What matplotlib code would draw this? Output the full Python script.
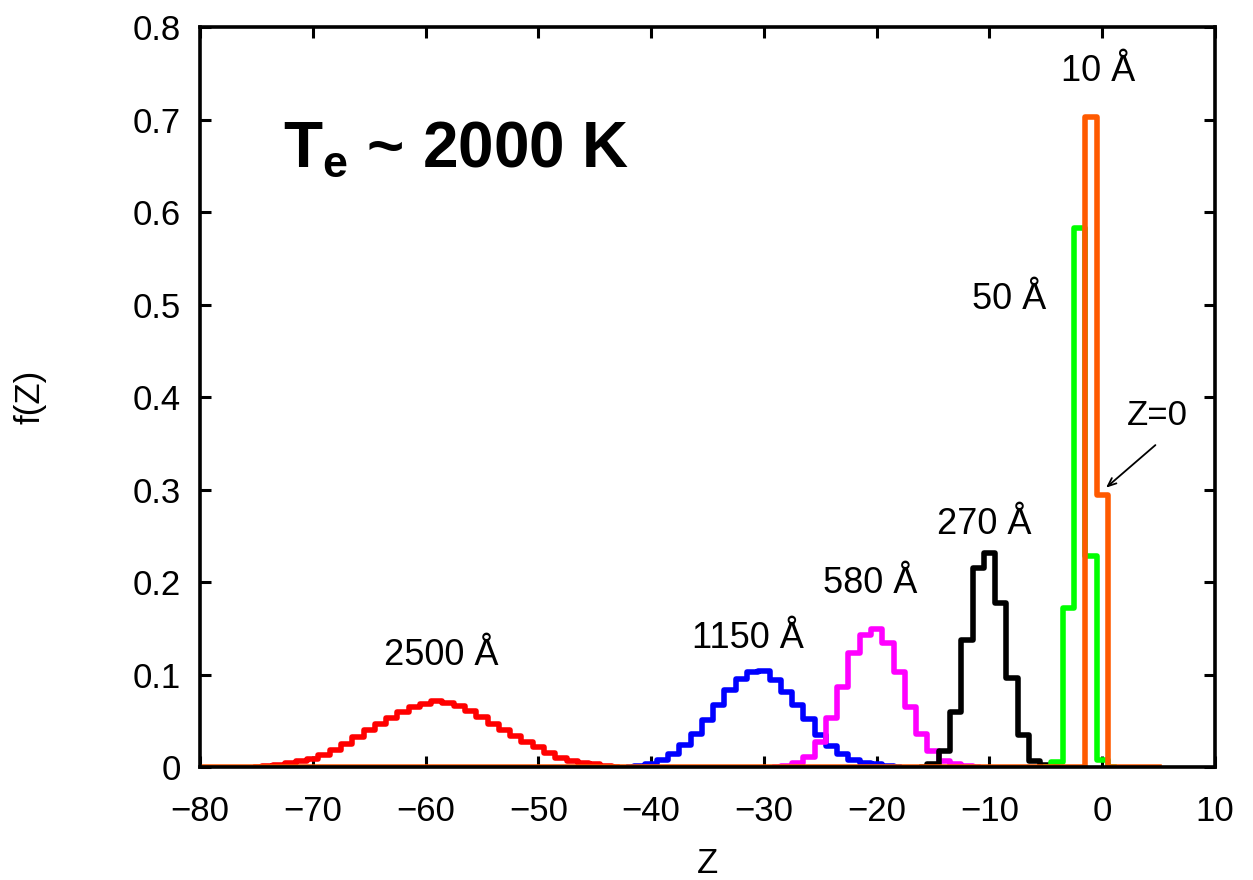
import numpy as np
import matplotlib
matplotlib.use("Agg")
from matplotlib import pyplot as plt

plt.rcParams['font.family'] = ['Liberation Sans', 'DejaVu Sans']
plt.rcParams['mathtext.fontset'] = 'custom'
plt.rcParams['mathtext.rm'] = 'Liberation Sans'
plt.rcParams['mathtext.bf'] = 'Liberation Sans:bold'

# charge distributions f(Z), one value per integer Z starting at z0
z0_2500 = -75
f_2500 = [0.0, 0.001, 0.002, 0.004, 0.006, 0.009, 0.0126, 0.018, 0.025, 0.032, 0.040,
          0.046, 0.053, 0.060, 0.065, 0.068, 0.071, 0.069, 0.066, 0.061, 0.054,
          0.047, 0.040, 0.034, 0.027, 0.022, 0.015, 0.0095, 0.006, 0.004, 0.003,
          0.001, 0.0]

z0_1150 = -42
f_1150 = [0.0, 0.001, 0.003, 0.0076, 0.0145, 0.024, 0.036, 0.051, 0.067, 0.083, 0.095,
          0.103, 0.104, 0.094, 0.0815, 0.067, 0.0515, 0.035, 0.023, 0.014, 0.008,
          0.0046, 0.003, 0.001, 0.0]

z0_580 = -29
f_580 = [0.0, 0.001, 0.004, 0.011, 0.027, 0.053, 0.087, 0.123, 0.143, 0.149, 0.134,
         0.103, 0.065, 0.036, 0.017, 0.006, 0.003, 0.001, 0.0]

z0_270 = -16
f_270 = [0.0, 0.003, 0.017, 0.060, 0.137, 0.215, 0.231, 0.177, 0.096, 0.035, 0.006,
         0.002, 0.0]

z0_50 = -5
f_50 = [0.0, 0.005, 0.172, 0.583, 0.228, 0.008, 0.0]

z0_10 = -80
f_10 = [0.0] * 79 + [0.703, 0.294] + [0.0] * 5

series = [
    (z0_2500, f_2500, '#ff0000'),
    (z0_1150, f_1150, '#0000ff'),
    (z0_580, f_580, '#ff00ff'),
    (z0_270, f_270, '#000000'),
    (z0_50, f_50, '#00ff00'),
    (z0_10, f_10, '#ff5a00'),
]

labels = [
    (-58.6, 0.121, '2500 Å'),
    (-31.4, 0.139, '1150 Å'),
    (-20.6, 0.198, '580 Å'),
    (-10.5, 0.262, '270 Å'),
    (-8.3, 0.505, '50 Å'),
    (-0.35, 0.752, '10 Å'),
]

yticks = [0, 0.1, 0.2, 0.3, 0.4, 0.5, 0.6, 0.7, 0.8]
ytick_labels = ['0', '0.1', '0.2', '0.3', '0.4', '0.5', '0.6', '0.7', '0.8']
xticks = [-80, -70, -60, -50, -40, -30, -20, -10, 0, 10]

fig = plt.figure(figsize=(12.53, 8.8), dpi=100)
ax = fig.add_axes([0.1596, 0.1284, 0.8101, 0.8409])

for z0, f, col in series:
    z = np.arange(z0, z0 + len(f))
    ax.step(z, f, where='mid', color=col, lw=4.0)

for x, y, s in labels:
    ax.text(x, y, s, fontsize=26, ha='center', va='center')

ax.text(4.9, 0.38, 'Z=0', fontsize=25, ha='center', va='center')
ax.annotate('', xy=(0.15, 0.300), xytext=(4.9, 0.350),
            arrowprops=dict(arrowstyle='->,head_length=0.6,head_width=0.25',
                            lw=1.3, color='black'))

ax.text(-72.6, 0.668, r'T$_{\mathbf{e}}$ ~ 2000 K', fontsize=46,
        fontweight='bold', ha='left', va='center')

ax.set_xlim(-80, 10)
ax.set_ylim(0, 0.8)
ax.set_xticks(xticks)
ax.set_yticks(yticks)
ax.set_yticklabels(ytick_labels)
ax.tick_params(direction='in', length=8, width=2.2, top=True, right=True,
               labelsize=25, pad=14)
ax.tick_params(axis='x', pad=20)
for sp in ax.spines.values():
    sp.set_linewidth(2.6)

ax.set_xlabel('Z', fontsize=25, labelpad=14)
ax.set_ylabel('f(Z)', fontsize=25, labelpad=62)

fig.savefig('out.png', dpi=100)
